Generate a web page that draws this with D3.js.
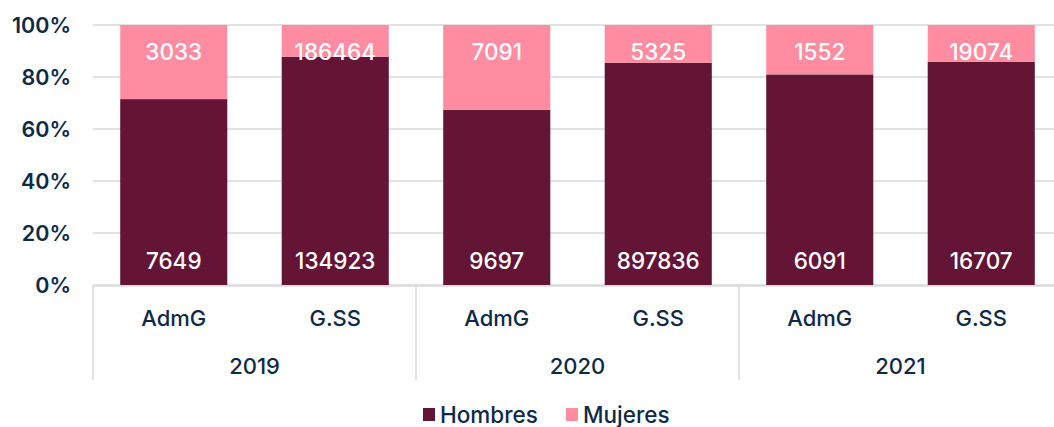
<!DOCTYPE html>
<html><head><meta charset="utf-8">
<script src="https://cdn.jsdelivr.net/npm/d3@7"></script>
<style>body{margin:0;background:#fff}svg{display:block}text{font-family:Inter,"Noto Sans",sans-serif}</style>
</head><body><svg id="c" width="1054" height="427"></svg>
<script>
const years = ["2019","2020","2021"];
const groups = ["AdmG","G.SS"];
const categories = ["2019|AdmG","2019|G.SS","2020|AdmG","2020|G.SS","2021|AdmG","2021|G.SS"];
// share of bar height (percent)
const hombresShare = [71.5, 87.8, 67.3, 85.5, 81.0, 85.9];
const mujeresShare = [28.5, 12.2, 32.7, 14.5, 19.0, 14.1];
// data labels shown in the bars
const hombresLabels = [7649, 134923, 9697, 897836, 6091, 16707];
const mujeresLabels = [3033, 186464, 7091, 5325, 1552, 19074];
const yTicks = [0, 20, 40, 60, 80, 100];
const seriesNames = ["Hombres","Mujeres"];
const colors = {Hombres:"#641434", Mujeres:"#ff8ca1"};
const textColor = "#0e2a47";

(function(){
const svg = d3.select("#c");
const pl = 93, pr = 1062, pt = 25, pb = 285;
const x = d3.scaleBand().domain(categories).range([pl, pr]).paddingInner(0.337).paddingOuter(0.1685);
const y = d3.scaleLinear().domain([0, 100]).range([pb, pt]);

// gridlines
svg.append("g").selectAll("line").data(yTicks).join("line")
  .attr("x1", pl).attr("x2", pr).attr("y1", d => y(d)).attr("y2", d => y(d))
  .attr("stroke", "#d9d9d9").attr("stroke-width", 1.5);

// y axis labels
const yAxis = d3.axisLeft(y).tickValues(yTicks).tickFormat(d => d + "%").tickSize(0).tickPadding(22);
const ya = svg.append("g").attr("transform", `translate(${pl},0)`).call(yAxis);
ya.select(".domain").remove();
ya.selectAll("text").attr("font-size", 21.5).attr("font-weight", 600).attr("fill", textColor).attr("dy", "0.35em").attr("font-family", "Inter, sans-serif");

// stacked bars
const rows = categories.map((c, i) => ({c, Hombres: hombresShare[i], Mujeres: mujeresShare[i], hl: hombresLabels[i], ml: mujeresLabels[i]}));
const stack = d3.stack().keys(seriesNames)(rows);
svg.append("g").selectAll("g").data(stack).join("g").attr("fill", d => colors[d.key])
  .selectAll("rect").data(d => d).join("rect")
  .attr("x", d => x(d.data.c)).attr("width", x.bandwidth())
  .attr("y", d => y(Math.min(d[1], 100))).attr("height", d => y(d[0]) - y(Math.min(d[1], 100)));

// labels
const lbl = svg.append("g").attr("fill", "#fff").attr("font-size", 22.5).attr("font-weight", 500).attr("text-anchor", "middle");
lbl.selectAll("text.h").data(rows).join("text").attr("class", "h")
  .attr("x", d => x(d.c) + x.bandwidth() / 2).attr("y", y(0) - 24).attr("dy", "0.35em").text(d => d.hl);
lbl.selectAll("text.m").data(rows).join("text").attr("class", "m")
  .attr("x", d => x(d.c) + x.bandwidth() / 2).attr("y", y(100) + 27).attr("dy", "0.35em").text(d => d.ml);

// x axis: baseline and group separators
svg.append("line").attr("x1", pl).attr("x2", pr).attr("y1", pb + 1).attr("y2", pb + 1).attr("stroke", "#d9d9d9").attr("stroke-width", 1.5);
const step = x.step();
const sepX = [0, 1, 2, 3].map(i => pl + i * 2 * step);
svg.append("g").selectAll("line").data(sepX).join("line")
  .attr("x1", d => d).attr("x2", d => d).attr("y1", pb).attr("y2", 380)
  .attr("stroke", "#d9d9d9").attr("stroke-width", 1.5);

svg.append("g").selectAll("text").data(categories).join("text")
  .attr("x", d => x(d) + x.bandwidth() / 2).attr("y", 318).attr("dy", "0.35em")
  .attr("text-anchor", "middle").attr("font-size", 22).attr("font-weight", 500).attr("fill", textColor)
  .text(d => d.split("|")[1]);
svg.append("g").selectAll("text").data(years).join("text")
  .attr("x", (d, i) => pl + (2 * i + 1) * step).attr("y", 366).attr("dy", "0.35em")
  .attr("text-anchor", "middle").attr("font-size", 22).attr("font-weight", 500).attr("fill", textColor)
  .text(d => d);

// legend
const lg = svg.append("g");
const lx = [423, 566];
seriesNames.forEach((s, i) => {
  lg.append("rect").attr("x", lx[i]).attr("y", 408).attr("width", 12).attr("height", 13).attr("fill", colors[s]);
  lg.append("text").attr("x", lx[i] + 17).attr("y", 415).attr("dy", "0.35em").attr("font-size", 22.5).attr("font-weight", 500)
    .attr("fill", textColor).text(s);
});
})();
</script></body></html>
